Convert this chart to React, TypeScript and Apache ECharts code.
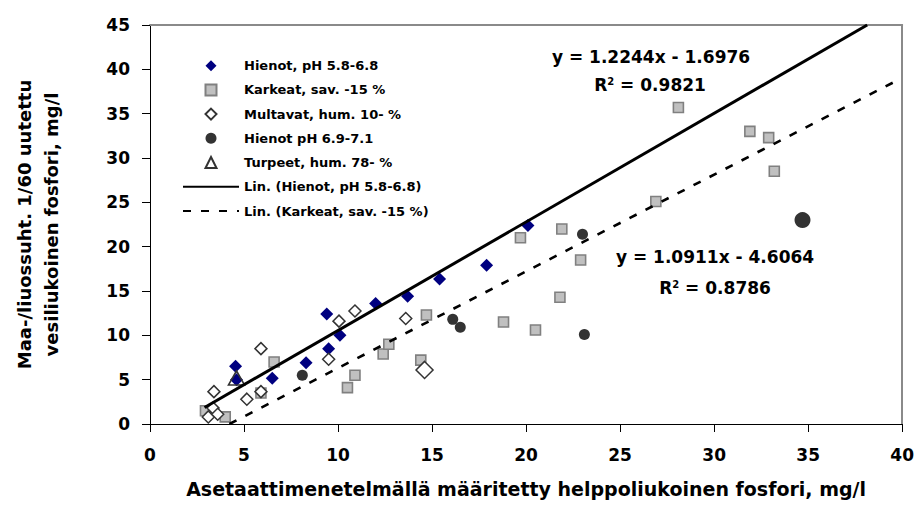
import React, { useEffect, useRef } from "react";
import * as echarts from "echarts";

// ---- data ----
const hienotName = "Hienot, pH 5.8-6.8";
const hienotData: number[][] = [
  [4.55, 6.5], [4.6, 5.0], [6.5, 5.15], [8.3, 6.9], [9.4, 12.4], [9.5, 8.5],
  [10.1, 10.0], [12.0, 13.6], [13.7, 14.4], [15.4, 16.35], [17.9, 17.9], [20.1, 22.4],
];

const karkeatName = "Karkeat, sav. -15 %";
const karkeatData: number[][] = [
  [2.95, 1.5], [4.0, 0.8], [5.9, 3.5], [6.6, 7.0], [10.5, 4.1], [10.9, 5.5],
  [12.4, 7.9], [12.7, 9.0], [14.4, 7.2], [14.7, 12.3], [18.8, 11.5], [19.7, 21.0],
  [20.5, 10.6], [21.8, 14.3], [21.9, 22.0], [22.9, 18.5], [26.9, 25.1], [28.1, 35.7],
  [31.9, 33.0], [32.9, 32.3], [33.2, 28.5],
];

const multavatName = "Multavat, hum. 10- %";
const multavatData: number[][] = [
  [3.1, 0.8], [3.35, 1.8], [3.4, 3.65], [3.6, 1.1], [5.15, 2.8], [5.9, 3.65],
  [5.9, 8.5], [9.5, 7.3], [10.05, 11.6], [10.9, 12.75], [13.6, 11.9], [14.6, 6.1],
];
const multavatLargeIndex = 11;

const hienot2Name = "Hienot pH 6.9-7.1";
const hienot2Data: number[][] = [
  [8.1, 5.5], [16.1, 11.8], [16.5, 10.9], [23.0, 21.4], [23.1, 10.1], [34.7, 23.0],
];
const hienot2LargeIndex = 5;

const turpeetName = "Turpeet, hum. 78- %";
const turpeetData: number[][] = [[4.6, 5.2]];

// trendlines (as printed on the chart)
const trendHienotName = "Lin. (Hienot, pH 5.8-6.8)";
const trendHienot = { slope: 1.2244, intercept: -1.6976, r2: 0.9821, xStart: 2.9, xEnd: 38.14 };
const trendKarkeatName = "Lin. (Karkeat, sav. -15 %)";
const trendKarkeat = { slope: 1.0911, intercept: -4.6064, r2: 0.8786, xStart: 4.22, xEnd: 39.7 };

const xAxisTitle = "Asetaattimenetelmällä määritetty helppoliukoinen fosfori, mg/l";
const yAxisTitle = "Maa-/liuossuht. 1/60 uutettu\nvesiliukoinen fosfori, mg/l";

const FONT = "'DejaVu Sans', 'Liberation Sans', Arial, sans-serif";

function trendPoints(t: { slope: number; intercept: number; xStart: number; xEnd: number }) {
  return [
    [t.xStart, t.slope * t.xStart + t.intercept],
    [t.xEnd, t.slope * t.xEnd + t.intercept],
  ];
}

function eqText(t: { slope: number; intercept: number }) {
  const sign = t.intercept < 0 ? "-" : "+";
  return `y = ${t.slope.toFixed(4)}x ${sign} ${Math.abs(t.intercept).toFixed(4)}`;
}

export default function App() {
  const ref = useRef<HTMLDivElement>(null);

  useEffect(() => {
    document.body.style.margin = "0";
    if (!ref.current) return;
    const chart = echarts.init(ref.current, undefined, { renderer: "svg" });

    const axisLineStyle = { color: "#000", width: 1 };
    const richEq = {
      b: { fontSize: 17, fontWeight: "bold" as const, fontFamily: FONT, color: "#000" },
      s: { fontSize: 10, fontWeight: "bold" as const, fontFamily: FONT, color: "#000", verticalAlign: "top" as const },
    };
    const eqLine = (x: number, y: number, text: string) => ({
      type: "text",
      x,
      y,
      style: {
        text,
        rich: richEq,
        font: `bold 17px ${FONT}`,
        fill: "#000",
        textAlign: "center",
        textVerticalAlign: "middle",
      },
    });

    chart.setOption({
      animation: false,
      backgroundColor: "#fff",
      grid: { left: 150, right: 13, top: 25, bottom: 81, containLabel: false },
      legend: [
        {
          data: [hienotName, karkeatName, multavatName, hienot2Name, turpeetName],
          orient: "vertical",
          left: 204.5,
          top: 57.7,
          padding: 0,
          itemGap: 8.2,
          itemWidth: 11,
          itemHeight: 11,
          textStyle: { fontSize: 13, lineHeight: 16, fontWeight: "bold", fontFamily: FONT, color: "#000", padding: [0, 0, 0, 22.5] },
          selectedMode: false,
        },
        {
          data: [trendHienotName, trendKarkeatName],
          orient: "vertical",
          left: 182,
          top: 178.7,
          padding: 0,
          itemGap: 8.3,
          itemWidth: 56,
          itemHeight: 11,
          itemStyle: { color: "rgba(0,0,0,0)", borderWidth: 0, borderColor: "rgba(0,0,0,0)" },
          textStyle: { fontSize: 13, lineHeight: 16, fontWeight: "bold", fontFamily: FONT, color: "#000" },
          selectedMode: false,
        },
      ],
      xAxis: [
        {
          type: "value",
          min: 0,
          max: 40,
          interval: 5,
          position: "bottom",
          axisLine: { show: true, onZero: false, lineStyle: axisLineStyle },
          axisTick: { show: true, length: 8, inside: false, lineStyle: axisLineStyle },
          axisLabel: { fontSize: 17, fontWeight: "bold", fontFamily: FONT, color: "#000", margin: 22 },
          splitLine: { show: false },
          name: xAxisTitle,
          nameLocation: "middle",
          nameGap: 55,
          nameTextStyle: { fontSize: 19, fontWeight: "bold", fontFamily: FONT, color: "#000" },
        },
        {
          type: "value",
          min: 0,
          max: 40,
          position: "top",
          axisLine: { show: true, onZero: false, lineStyle: { color: "#8a8a8a", width: 2 } },
          axisTick: { show: false },
          axisLabel: { show: false },
          splitLine: { show: false },
        },
      ],
      yAxis: [
        {
          type: "value",
          min: 0,
          max: 45,
          interval: 5,
          position: "left",
          axisLine: { show: true, onZero: false, lineStyle: axisLineStyle },
          axisTick: { show: true, length: 8, inside: false, lineStyle: axisLineStyle },
          axisLabel: { fontSize: 17, fontWeight: "bold", fontFamily: FONT, color: "#000", margin: 20 },
          splitLine: { show: false },
          name: yAxisTitle,
          nameLocation: "middle",
          nameGap: 85,
          nameTextStyle: { fontSize: 18, lineHeight: 27, fontWeight: "bold", fontFamily: FONT, color: "#000", align: "center" },
        },
        {
          type: "value",
          min: 0,
          max: 45,
          position: "right",
          axisLine: { show: true, onZero: false, lineStyle: { color: "#8a8a8a", width: 2 } },
          axisTick: { show: false },
          axisLabel: { show: false },
          splitLine: { show: false },
        },
      ],
      series: [
        {
          name: hienotName,
          type: "scatter",
          data: hienotData,
          symbol: "diamond",
          symbolSize: 13,
          itemStyle: { color: "#000080", borderColor: "#000080", borderWidth: 0, opacity: 1 },
          z: 2,
        },
        {
          name: karkeatName,
          type: "scatter",
          data: karkeatData,
          symbol: "rect",
          symbolSize: 10,
          itemStyle: { color: "#c0c0c0", borderColor: "#808080", borderWidth: 1.6, opacity: 1 },
          z: 3,
        },
        {
          name: multavatName,
          type: "scatter",
          data: multavatData,
          symbol: "diamond",
          symbolSize: (_v: any, p: any) => (p.dataIndex === multavatLargeIndex ? 17 : 12),
          itemStyle: { color: "#ffffff", borderColor: "#333333", borderWidth: 1.5, opacity: 1 },
          z: 4,
        },
        {
          name: hienot2Name,
          type: "scatter",
          data: hienot2Data,
          symbol: "circle",
          symbolSize: (_v: any, p: any) => (p.dataIndex === hienot2LargeIndex ? 16 : 11),
          itemStyle: { color: "#333333", opacity: 1 },
          z: 5,
        },
        {
          name: turpeetName,
          type: "scatter",
          data: turpeetData,
          symbol: "triangle",
          symbolSize: [16, 14],
          itemStyle: { color: "rgba(255,255,255,0)", borderColor: "#333333", borderWidth: 1.6, opacity: 1 },
          z: 6,
        },
        {
          name: trendHienotName,
          type: "line",
          data: trendPoints(trendHienot),
          symbol: "none",
          showSymbol: false,
          clip: true,
          lineStyle: { color: "#000", width: 3, type: "solid" },
          itemStyle: { color: "#000" },
          z: 7,
        },
        {
          name: trendKarkeatName,
          type: "line",
          data: trendPoints(trendKarkeat),
          symbol: "none",
          showSymbol: false,
          clip: true,
          lineStyle: { color: "#000", width: 2.6, type: [8, 10] },
          itemStyle: { color: "#000" },
          z: 7,
        },
      ],
      graphic: [
        eqLine(651, 57, `{b|${eqText(trendHienot)}}`),
        eqLine(650, 85, `{b|R}{s|2}{b| = ${trendHienot.r2.toFixed(4)}}`),
        eqLine(715, 257, `{b|${eqText(trendKarkeat)}}`),
        eqLine(715, 288, `{b|R}{s|2}{b| = ${trendKarkeat.r2.toFixed(4)}}`),
      ],
    });

    return () => chart.dispose();
  }, []);

  return <div ref={ref} style={{ width: 917, height: 505 }} />;
}
